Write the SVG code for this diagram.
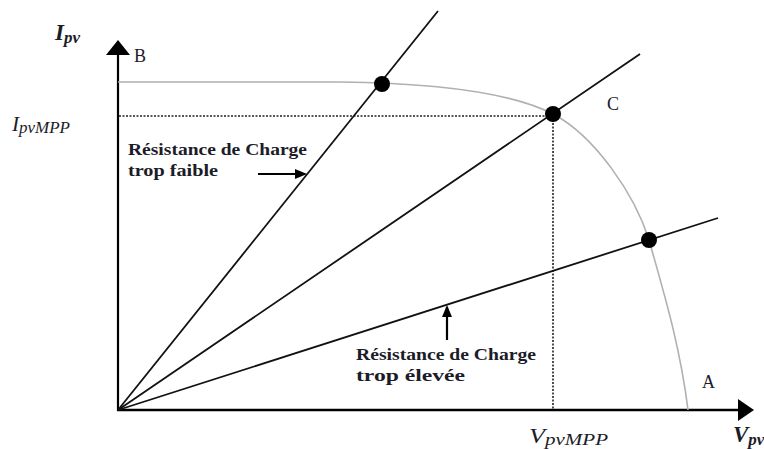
<svg xmlns="http://www.w3.org/2000/svg" width="764" height="449" viewBox="0 0 764 449">
  <style>
    .axis { stroke: #000; stroke-width: 2.4; fill: none; }
    .load { stroke: #111; stroke-width: 1.8; fill: none; }
    .iv { stroke: #b0b0b0; stroke-width: 1.6; fill: none; }
    .guide { stroke: #222; stroke-width: 1.6; stroke-dasharray: 2 1.5; fill: none; }
    .pt { fill: #000; }
    .note { font-family: "Liberation Serif", "DejaVu Serif", serif; font-weight: bold; font-size: 17px; fill: #1c1c28; }
    .mark { font-family: "Liberation Serif", "DejaVu Serif", serif; font-size: 18px; fill: #1c1c28; }
    .sym { font-family: "Liberation Serif", "DejaVu Serif", serif; font-style: italic; fill: #1c1c28; }
    .ptr { stroke: #000; stroke-width: 2.2; fill: none; }
  </style>
  <defs>
    <marker id="ptrHead" markerWidth="12" markerHeight="12" refX="10" refY="6" orient="auto" markerUnits="userSpaceOnUse" viewBox="0 0 12 12">
      <path d="M0,1 L12,6 L0,11 Z" fill="#000"/>
    </marker>
  </defs>

  <!-- axes -->
  <g id="axes">
    <line class="axis" x1="118" y1="411" x2="118" y2="52" style="stroke-width:2.2"/>
    <path d="M106,55 L118,40 L130,55 Z" fill="#000"/>
    <line class="axis" x1="117" y1="410" x2="740" y2="410"/>
    <path d="M738,399 L754,410 L738,421 Z" fill="#000"/>
  </g>

  <!-- I-V characteristic -->
  <g id="iv-curve">
    <path class="iv" d="M118,82 L340,82 C430,83 510,92 553,114 C595,136 635,195 649,240 C663,290 680,345 688,410"/>
  </g>

  <!-- MPP guides -->
  <g id="mpp-guides">
    <line class="guide" x1="119" y1="116" x2="553" y2="116"/>
    <line class="guide" x1="553" y1="116" x2="553" y2="409"/>
  </g>

  <!-- load lines -->
  <g id="connectors">
    <line class="load" x1="118" y1="410" x2="438" y2="11"/>
    <line class="load" x1="118" y1="410" x2="640" y2="54"/>
    <line class="load" x1="118" y1="410" x2="718" y2="218"/>
  </g>

  <!-- operating points -->
  <g id="points">
    <circle class="pt" cx="382" cy="84" r="8"/>
    <circle class="pt" cx="553" cy="114" r="8"/>
    <circle class="pt" cx="649" cy="240" r="8"/>
  </g>

  <!-- labels -->
  <g id="label-B"><text class="mark" x="134" y="62">B</text></g>
  <g id="label-C"><text class="mark" x="607" y="110">C</text></g>
  <g id="label-A"><text class="mark" x="702" y="388">A</text></g>

  <g id="label-Ipv">
    <text class="sym" x="55" y="40" font-weight="bold" font-size="23">I<tspan font-size="17" dy="3">pv</tspan></text>
  </g>
  <g id="label-IpvMPP">
    <text class="sym" x="12" y="131" font-size="20" textLength="58" lengthAdjust="spacingAndGlyphs">I<tspan font-size="16" dy="2">pvMPP</tspan></text>
  </g>
  <g id="label-VpvMPP">
    <text class="sym" x="529" y="443" font-size="20" textLength="79" lengthAdjust="spacingAndGlyphs">V<tspan font-size="16" dy="2">pvMPP</tspan></text>
  </g>
  <g id="label-Vpv">
    <text class="sym" x="733" y="442" font-weight="bold" font-size="23">V<tspan font-size="17" dy="3">pv</tspan></text>
  </g>

  <!-- annotations -->
  <g id="note-low">
    <text class="note" x="128" y="155" textLength="179" lengthAdjust="spacingAndGlyphs">Résistance de Charge</text>
    <text class="note" x="128" y="176" textLength="90" lengthAdjust="spacingAndGlyphs">trop faible</text>
    <line class="ptr" x1="258" y1="174" x2="305" y2="174" marker-end="url(#ptrHead)"/>
  </g>
  <g id="note-high">
    <text class="note" x="356" y="360" textLength="180" lengthAdjust="spacingAndGlyphs">Résistance de Charge</text>
    <text class="note" x="356" y="381" textLength="109" lengthAdjust="spacingAndGlyphs">trop élevée</text>
    <line class="ptr" x1="447" y1="340" x2="447" y2="307" marker-end="url(#ptrHead)"/>
  </g>
</svg>
